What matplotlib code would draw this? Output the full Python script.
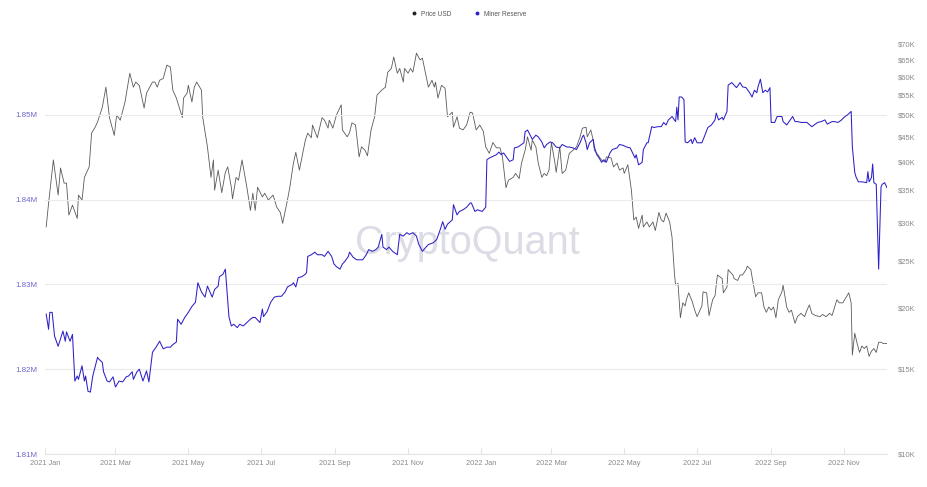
import matplotlib
matplotlib.use("Agg")
import matplotlib.pyplot as plt
from matplotlib.lines import Line2D
import pandas as pd

start = pd.Timestamp("2021-01-01")

# BTC price (USD, thousands), day offsets from 2021-01-01
price_day = [1, 3, 7, 11, 13, 16, 18, 20, 23, 27,
             28, 31, 33, 37, 39, 42, 44, 48, 51, 54,
             58, 60, 63, 67, 71, 74, 76, 79, 83, 85,
             90, 92, 94, 96, 99, 102, 105, 107, 110, 115,
             116, 119, 120, 123, 125, 127, 131, 132, 136, 139,
             141, 142, 145, 148, 151, 153, 156, 157, 160, 162,
             165, 167, 169, 172, 174, 176, 178, 182, 184, 187,
             191, 194, 197, 199, 203, 205, 208, 210, 213, 218,
             220, 223, 224, 228, 232, 234, 237, 238, 241, 244,
             248, 249, 253, 255, 257, 260, 263, 265, 268, 270,
             273, 276, 278, 282, 285, 287, 290, 292, 295, 297,
             300, 301, 304, 306, 308, 311, 314, 316, 319, 321,
             324, 326, 327, 329, 332, 335, 337, 341, 342, 345,
             347, 350, 353, 356, 358, 361, 364, 367, 369, 372,
             375, 378, 381, 383, 386, 388, 392, 394, 397, 399,
             402, 404, 407, 408, 411, 413, 416, 418, 420, 422,
             424, 427, 428, 431, 433, 436, 439, 442, 445, 448,
             450, 453, 454, 457, 459, 460, 463, 466, 469, 470,
             474, 476, 479, 481, 484, 485, 488, 489, 491, 493,
             495, 497, 500, 501, 504, 506, 509, 511, 514, 516,
             518, 520, 523, 525, 527, 528, 530, 532, 534, 536,
             537, 539, 542, 544, 546, 550, 551, 554, 556, 559,
             561, 563, 567, 568, 571, 572, 576, 577, 580, 582,
             584, 587, 588, 591, 592, 595, 597, 600, 602, 604,
             606, 608, 610, 612, 614, 617, 618, 621, 623, 625,
             628, 630, 633, 636, 638, 640, 642, 645, 649, 651,
             654, 657, 659, 663, 665, 668, 671, 673, 675, 676,
             678, 680, 682, 684, 686, 688, 690, 692, 694, 696,
             698, 700, 702, 705]
price_k = [29.4, 32.9, 40.4, 34.2, 38.9, 36.2, 36.2, 31.1, 32.6, 30.6,
           34.2, 33.4, 37.2, 39.1, 45.9, 47.2, 48.4, 51.9, 57.1, 49.4,
           45.4, 50.0, 48.8, 53.2, 61.0, 57.1, 58.5, 57.5, 51.7, 55.5,
           58.5, 58.5, 57.1, 59.0, 59.5, 63.4, 62.8, 56.3, 54.2, 49.4,
           54.2, 55.5, 57.6, 53.2, 57.1, 58.5, 56.3, 49.6, 43.0, 37.2,
           40.4, 35.0, 38.5, 34.6, 38.1, 39.1, 35.5, 33.6, 37.2, 36.7,
           40.4, 37.9, 35.5, 31.8, 34.5, 31.8, 35.5, 33.9, 34.5, 33.4,
           34.2, 32.3, 31.5, 29.9, 33.4, 35.5, 39.8, 41.9, 38.5, 44.4,
           45.9, 44.9, 47.7, 44.9, 49.4, 48.8, 47.0, 48.8, 47.0, 50.0,
           52.5, 46.6, 45.1, 46.0, 48.2, 47.7, 41.0, 43.0, 42.3, 41.2,
           46.6, 49.6, 55.0, 56.3, 57.1, 61.3, 62.4, 65.9, 61.0, 62.4,
           58.5, 62.4, 61.0, 62.4, 61.3, 67.1, 65.0, 65.5, 60.4, 57.1,
           59.0, 57.1, 58.5, 54.2, 57.6, 56.8, 49.6, 50.7, 47.2, 49.6,
           47.0, 46.6, 47.7, 50.7, 50.5, 46.6, 47.7, 46.3, 43.0, 41.7,
           43.9, 42.8, 42.8, 41.0, 35.4, 36.7, 37.2, 37.9, 37.0, 39.8,
           42.3, 45.1, 42.3, 44.4, 43.0, 39.8, 37.2, 37.9, 37.5, 38.5,
           43.9, 39.8, 38.1, 43.0, 37.9, 38.5, 41.7, 42.3, 43.0, 45.1,
           47.0, 47.2, 45.1, 46.6, 44.4, 42.3, 41.4, 40.4, 40.0, 41.0,
           40.8, 39.1, 39.8, 38.5, 38.9, 37.9, 39.5, 37.9, 35.0, 30.4,
           30.8, 29.2, 31.1, 29.4, 30.1, 29.4, 30.1, 28.9, 31.5, 30.4,
           30.1, 31.4, 30.1, 28.0, 23.6, 22.3, 22.5, 19.1, 20.5, 20.2,
           20.8, 21.5, 20.6, 19.8, 19.2, 20.2, 21.6, 21.5, 19.3, 20.8,
           21.2, 23.4, 23.0, 21.5, 22.1, 24.0, 23.4, 23.0, 22.8, 23.4,
           23.4, 24.0, 24.4, 24.0, 23.2, 21.1, 21.5, 21.5, 20.1, 19.6,
           20.1, 19.8, 20.1, 19.1, 20.8, 21.6, 22.3, 20.1, 19.6, 19.8,
           18.6, 19.2, 19.5, 19.2, 19.8, 20.3, 19.5, 19.3, 19.2, 19.4,
           19.2, 19.5, 19.3, 20.8, 20.5, 20.5, 21.1, 21.5, 20.5, 16.0,
           17.75, 16.9, 16.2, 16.7, 16.5, 16.7, 15.9, 16.3, 16.5, 16.2,
           17.0, 17.0, 16.9, 16.9]

# Miner reserve (BTC, millions)
reserve_day = [1, 3, 4, 6, 8, 11, 15, 17, 18, 21,
               23, 25, 27, 28, 31, 33, 34, 36, 38, 40,
               44, 45, 48, 49, 52, 54, 57, 59, 62, 65,
               68, 70, 73, 74, 77, 79, 82, 85, 87, 90,
               93, 96, 99, 102, 105, 107, 110, 111, 114, 117,
               120, 123, 126, 128, 131, 134, 136, 140, 142, 145,
               146, 149, 151, 154, 156, 158, 161, 163, 166, 169,
               172, 174, 176, 180, 182, 183, 186, 189, 192, 195,
               198, 201, 203, 207, 208, 210, 212, 215, 218, 219,
               220, 223, 226, 228, 232, 234, 237, 240, 242, 244,
               247, 249, 251, 254, 255, 258, 261, 264, 266, 269,
               271, 274, 277, 279, 282, 283, 286, 288, 291, 295,
               297, 300, 303, 305, 308, 311, 313, 316, 319, 321,
               325, 328, 331, 333, 335, 337, 341, 342, 345, 347,
               350, 353, 356, 357, 360, 362, 366, 369, 370, 372,
               375, 378, 380, 382, 384, 387, 389, 392, 393, 396,
               399, 401, 402, 404, 407, 408, 411, 413, 416, 418,
               420, 423, 425, 428, 431, 433, 437, 439, 442, 445,
               448, 450, 451, 453, 454, 456, 459, 460, 462, 464,
               466, 468, 470, 473, 475, 479, 481, 484, 487, 490,
               492, 494, 495, 497, 500, 501, 504, 505, 508, 510,
               513, 516, 518, 520, 522, 525, 527, 528, 529, 530,
               531, 533, 535, 536, 538, 541, 542, 544, 546, 550,
               552, 555, 558, 561, 562, 564, 567, 568, 571, 572,
               575, 577, 579, 582, 584, 587, 590, 592, 594, 596,
               597, 599, 601, 603, 605, 607, 608, 611, 613, 617,
               618, 621, 623, 626, 628, 630, 633, 636, 638, 642,
               644, 647, 650, 653, 655, 659, 661, 664, 667, 669,
               672, 675, 676, 678, 679, 681, 684, 688, 689, 690,
               692, 693, 694, 696, 698, 700, 701, 703, 705]
reserve_m = [1.8265, 1.8247, 1.8267, 1.8267, 1.8239, 1.8227, 1.8245, 1.8233, 1.8244, 1.8233,
             1.8241, 1.8186, 1.8192, 1.8188, 1.8204, 1.8186, 1.8192, 1.8174, 1.8173, 1.8192,
             1.8214, 1.8212, 1.8208, 1.8197, 1.8186, 1.8185, 1.8191, 1.8179, 1.8186, 1.8185,
             1.8191, 1.8192, 1.8197, 1.8188, 1.8197, 1.8200, 1.8186, 1.8198, 1.8185, 1.8220,
             1.8226, 1.8233, 1.8224, 1.8226, 1.8226, 1.8229, 1.8232, 1.8259, 1.8253, 1.8261,
             1.8267, 1.8274, 1.8279, 1.8302, 1.8291, 1.8285, 1.8298, 1.8285, 1.8294, 1.8298,
             1.8309, 1.8312, 1.8318, 1.8262, 1.8251, 1.8253, 1.8249, 1.8253, 1.8251, 1.8255,
             1.8259, 1.8261, 1.8261, 1.8255, 1.8271, 1.8262, 1.8268, 1.8279, 1.8285, 1.8286,
             1.8286, 1.8291, 1.8297, 1.8300, 1.8302, 1.8297, 1.8308, 1.8309, 1.8312, 1.8314,
             1.8333, 1.8335, 1.8338, 1.8335, 1.8335, 1.8333, 1.8339, 1.8333, 1.8324, 1.8321,
             1.8318, 1.8324, 1.8327, 1.8333, 1.8338, 1.8332, 1.8329, 1.8329, 1.8329, 1.8335,
             1.8341, 1.8339, 1.8341, 1.8344, 1.8359, 1.8344, 1.8341, 1.8344, 1.8339, 1.8335,
             1.8359, 1.8357, 1.8361, 1.8359, 1.8361, 1.8357, 1.8347, 1.8339, 1.8344, 1.8347,
             1.8349, 1.8353, 1.8365, 1.8374, 1.8365, 1.8371, 1.8376, 1.8394, 1.8382, 1.8386,
             1.8388, 1.8391, 1.8396, 1.8396, 1.8386, 1.8388, 1.8386, 1.8391, 1.8447, 1.8449,
             1.8451, 1.8453, 1.8456, 1.8453, 1.8455, 1.8449, 1.8445, 1.8447, 1.8461, 1.8462,
             1.8465, 1.8467, 1.8480, 1.8482, 1.8474, 1.8471, 1.8476, 1.8474, 1.8468, 1.8461,
             1.8465, 1.8468, 1.8467, 1.8462, 1.8461, 1.8465, 1.8462, 1.8462, 1.8461, 1.8459,
             1.8467, 1.8474, 1.8476, 1.8467, 1.8459, 1.8467, 1.8471, 1.8462, 1.8453, 1.8449,
             1.8444, 1.8447, 1.8444, 1.8455, 1.8459, 1.8461, 1.8465, 1.8464, 1.8462, 1.8461,
             1.8455, 1.8449, 1.8453, 1.8441, 1.8444, 1.8459, 1.8467, 1.8467, 1.8486, 1.8485,
             1.8486, 1.8486, 1.8491, 1.8488, 1.8494, 1.8498, 1.8494, 1.8492, 1.8509, 1.8494,
             1.8521, 1.8521, 1.8518, 1.8468, 1.8467, 1.8471, 1.8466, 1.8473, 1.8467, 1.8467,
             1.8474, 1.8485, 1.8488, 1.8494, 1.8502, 1.8494, 1.8497, 1.8494, 1.8504, 1.8535,
             1.8538, 1.8535, 1.8532, 1.8538, 1.8533, 1.8532, 1.8526, 1.8521, 1.8529, 1.8526,
             1.8533, 1.8542, 1.8526, 1.8529, 1.8527, 1.8532, 1.8491, 1.8491, 1.8498, 1.8498,
             1.8492, 1.8488, 1.8492, 1.8498, 1.8492, 1.8492, 1.8491, 1.8491, 1.8491, 1.8486,
             1.8488, 1.8491, 1.8492, 1.8494, 1.8489, 1.8492, 1.8492, 1.8491, 1.8494, 1.8497,
             1.8500, 1.8504, 1.8462, 1.8432, 1.8427, 1.8421, 1.8421, 1.8420, 1.8433, 1.8421,
             1.8426, 1.8442, 1.8420, 1.8418, 1.8318, 1.8415, 1.8418, 1.8420, 1.8414]

left_ticks = [1.81, 1.82, 1.83, 1.84, 1.85]
right_ticks = [10, 15, 20, 25, 30, 35, 40, 45, 50, 55, 60, 65, 70]
month_ticks = pd.date_range("2021-01-01", "2022-11-01", freq="2MS")

price_dates = start + pd.to_timedelta(price_day, unit="D")
reserve_dates = start + pd.to_timedelta(reserve_day, unit="D")
price_usd = [p * 1000 for p in price_k]

plt.rcParams["font.family"] = ["Liberation Sans", "DejaVu Sans"]

fig = plt.figure(figsize=(9.28, 4.87), dpi=100)
ax = fig.add_axes([45 / 928, 33 / 487, 842 / 928, 424 / 487])
ax2 = ax.twinx()

# reserve on the left axis
ax.plot(reserve_dates, reserve_m, color="#2d20c6", lw=0.75, zorder=3)
ax.set_ylim(1.81, 1.86)
ax.set_yticks(left_ticks)
ax.set_yticklabels(["%.2fM" % v for v in left_ticks])
ax.grid(axis="y", color="#ebebeb", lw=0.8)
ax.set_axisbelow(True)
ax.tick_params(axis="y", length=0, pad=5.5, labelsize=5.7, labelcolor="#6d67c9")

# price on a log right axis
ax2.plot(price_dates, price_usd, color="#5a5a5a", lw=0.6, zorder=2)
ax2.set_yscale("log")
ax2.set_ylim(10000, 74900)
ax2.set_yticks([t * 1000 for t in right_ticks])
ax2.set_yticklabels(["$%dK" % t for t in right_ticks])
ax2.minorticks_off()
ax2.tick_params(axis="y", length=0, pad=8, labelsize=5.4, labelcolor="#8a8a8a")
ax.set_zorder(ax2.get_zorder() + 1)
ax.patch.set_visible(False)

ax.set_xlim(start, start + pd.Timedelta(days=705))
ax.set_xticks(month_ticks)
ax.set_xticklabels([d.strftime("%Y %b") for d in month_ticks])
ax.tick_params(axis="x", direction="in", length=4, color="#e3e3e3",
               pad=4.5, labelsize=5.3, labelcolor="#8a8a8a")

for a in (ax, ax2):
    for s in a.spines.values():
        s.set_visible(False)
ax.spines["bottom"].set_visible(True)
ax.spines["bottom"].set_color("#e3e3e3")
ax.spines["bottom"].set_linewidth(0.8)

# watermark, under both lines
ax2.text(467 / 928, 1 - 254 / 487, "CryptoQuant", transform=fig.transFigure,
         ha="center", va="baseline", fontsize=28.5, color="#dcdce6", zorder=0)

handles = [Line2D([], [], ls="none", marker="o", ms=1.8, color="#222222"),
           Line2D([], [], ls="none", marker="o", ms=1.8, color="#2d20c6")]
fig.legend(handles, ["Price USD", "Miner Reserve"], loc="center",
           bbox_to_anchor=(467 / 928, 1 - 14 / 487), ncol=2, frameon=False,
           fontsize=4.7, handletextpad=0.1, columnspacing=3.0,
           labelcolor="#555555")

fig.savefig("out.png", dpi=100)
